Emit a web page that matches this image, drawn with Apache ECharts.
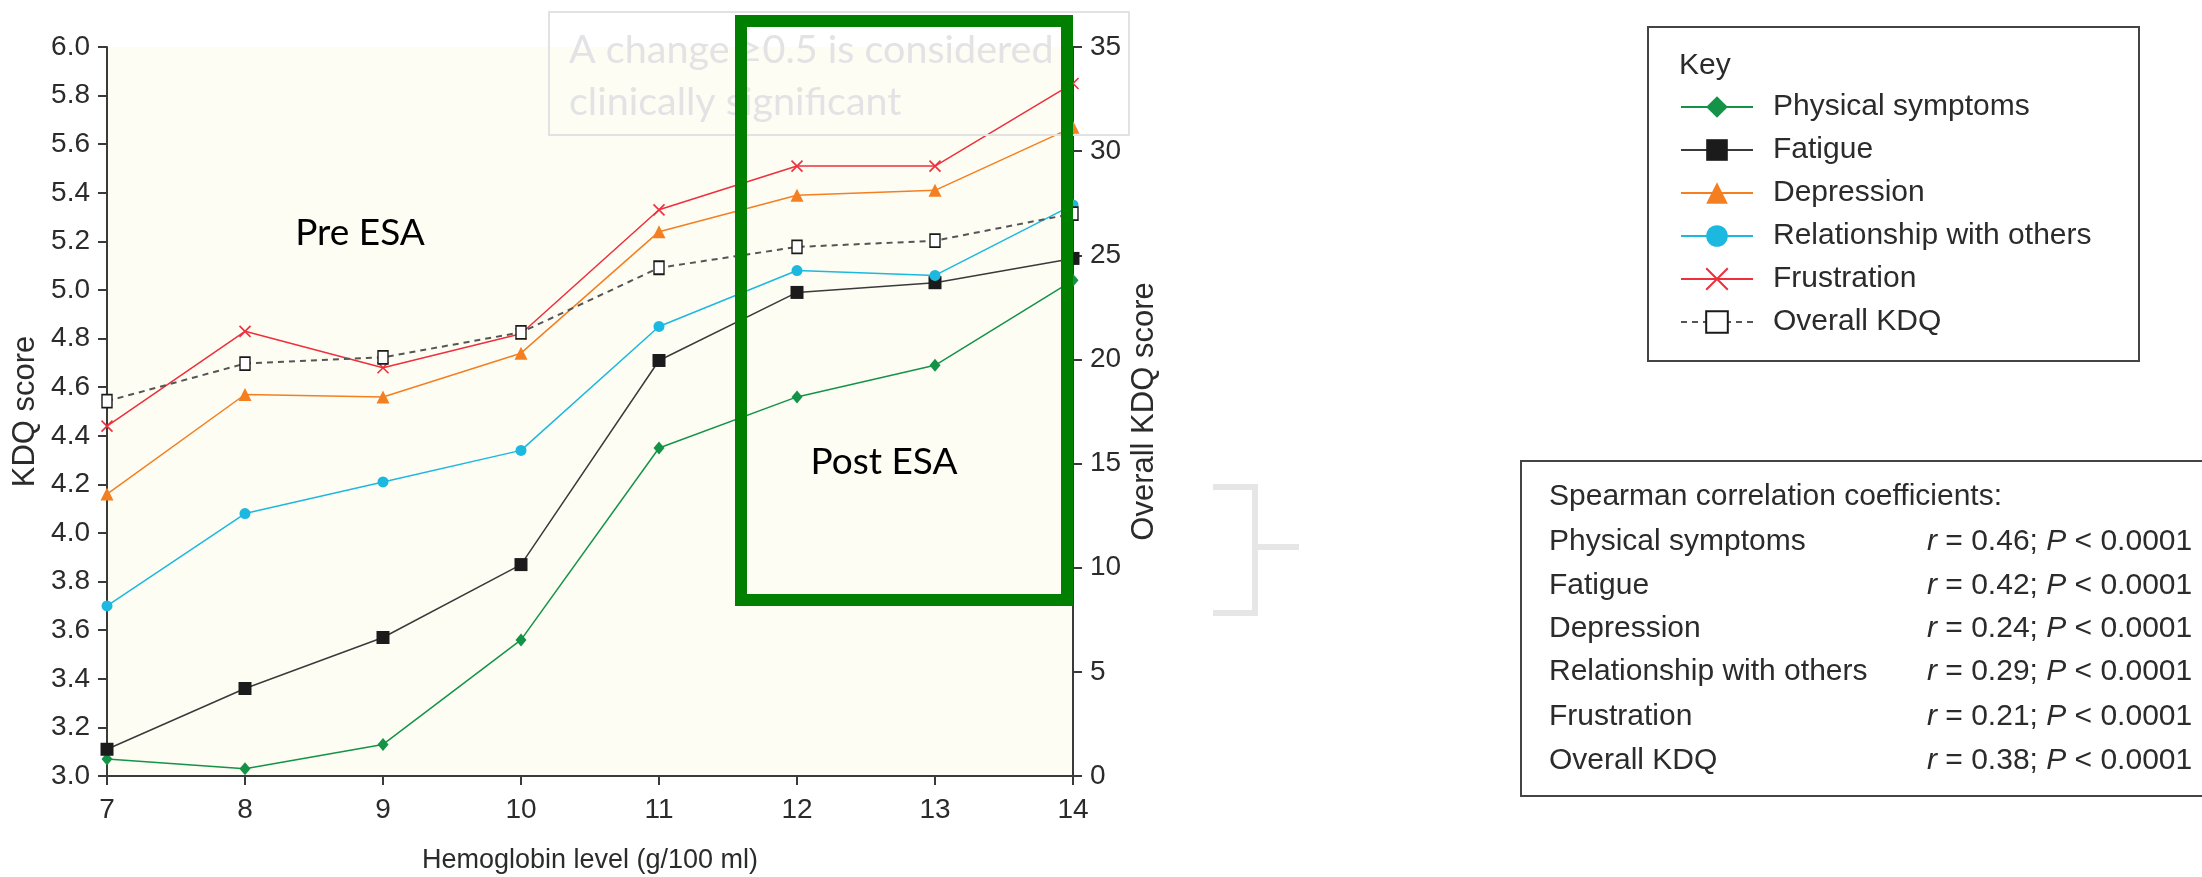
<!DOCTYPE html>
<html>
<head>
<meta charset="utf-8">
<style>
html,body{margin:0;padding:0;background:#fff;}
#chart{width:2202px;height:877px;}
</style>
<script src="https://cdn.jsdelivr.net/npm/echarts@6/dist/echarts.min.js"></script>
</head>
<body>
<div id="chart"></div>
<script>
// ---- data ----
const hemoglobin = [7, 8, 9, 10, 11, 12, 13, 14];
const physicalSymptoms = [3.07, 3.03, 3.13, 3.56, 4.35, 4.56, 4.69, 5.04];
const fatigue = [3.11, 3.36, 3.57, 3.87, 4.71, 4.99, 5.03, 5.13];
const depression = [4.16, 4.57, 4.56, 4.74, 5.24, 5.39, 5.41, 5.67];
const relationship = [3.70, 4.08, 4.21, 4.34, 4.85, 5.08, 5.06, 5.35];
const frustration = [4.44, 4.83, 4.68, 4.82, 5.33, 5.51, 5.51, 5.85];
const overallKDQ = [18.0, 19.8, 20.1, 21.3, 24.4, 25.4, 25.7, 27.0];
const seriesNames = ['Physical symptoms', 'Fatigue', 'Depression', 'Relationship with others', 'Frustration', 'Overall KDQ'];
const spearmanR = ['0.46', '0.42', '0.24', '0.29', '0.21', '0.38'];
const spearmanP = '0.0001';

const FONT = '"Liberation Sans", Arial, Helvetica, sans-serif';
const CAL = 'Lato, "Open Sans", sans-serif';
const TXT = '#2b2b2b';
const AX = '#3a3a3a';

function pairs(ys){ return hemoglobin.map((x,i)=>[x, ys[i]]); }

const crossPath = 'path://M0,0L10,10M10,0L0,10';

function lineSeries(name, data, color, symbol, size, extra){
  return Object.assign({
    name: name,
    type: 'line',
    data: pairs(data),
    symbol: symbol,
    symbolSize: size,
    lineStyle: {color: color, width: 1.5},
    itemStyle: {color: color},
    emphasis: {disabled: true},
    z: 3
  }, extra || {});
}

const series = [
  lineSeries(seriesNames[0], physicalSymptoms, '#149348', 'diamond', [11, 13]),
  lineSeries(seriesNames[1], fatigue, '#1b1b1b', 'rect', 13, {lineStyle:{color:'#3a3a3a', width:1.5}}),
  lineSeries(seriesNames[2], depression, '#f47f21', 'triangle', 13),
  lineSeries(seriesNames[3], relationship, '#1cb8e0', 'circle', 11),
  lineSeries(seriesNames[4], frustration, '#ee2f3c', crossPath, 11,
    {itemStyle:{color:'#ee2f3c', borderColor:'#ee2f3c', borderWidth:1.6}}),
  lineSeries(seriesNames[5], overallKDQ, '#555555', 'rect', [10, 13], {
    yAxisIndex: 1,
    lineStyle: {color:'#555555', width: 2, type: [6, 5]},
    itemStyle: {color:'#ffffff', borderColor:'#1a1a1a', borderWidth:1.6}
  })
];

// spearman text graphics
const spearmanGraphics = [];
spearmanGraphics.push({
  type:'text', left:1549, top:482, z:50,
  style:{text:'Spearman correlation coefficients:', font:'30px ' + FONT, fill:TXT}
});
const rowTop = [527, 571, 614, 657, 702, 746];
seriesNames.forEach((n,i)=>{
  spearmanGraphics.push({
    type:'text', left:1549, top:rowTop[i], z:50,
    style:{text:n, font:'30px ' + FONT, fill:TXT}
  });
  spearmanGraphics.push({
    type:'text', left:1927, top:rowTop[i], z:50,
    style:{
      text:'{i|r} = ' + spearmanR[i] + '; {i|P} < ' + spearmanP,
      font:'30px ' + FONT, fill:TXT,
      rich:{i:{fontStyle:'italic', fontSize:30, fontFamily:FONT, fill:TXT}}
    }
  });
});

const option = {
  animation: false,
  backgroundColor: '#ffffff',
  grid: {
    left: 107, top: 47, width: 966, height: 729,
    show: true, backgroundColor: '#fdfdf4', borderWidth: 0,
    containLabel: false, outerBoundsMode: 'none'
  },
  legend: {
    orient: 'vertical',
    left: 1680, top: 92,
    padding: 0,
    itemWidth: 72, itemHeight: 27, itemGap: 13,
    data: seriesNames,
    selectedMode: false,
    textStyle: {fontSize: 30, fontFamily: FONT, color: TXT, padding: [0, 0, 0, 15]}
  },
  xAxis: {
    type: 'value', min: 7, max: 14, interval: 1,
    name: 'Hemoglobin level (g/100 ml)', nameLocation: 'middle', nameGap: 71,
    nameTextStyle: {fontSize: 27, fontFamily: FONT, color: TXT},
    axisLine: {show: true, onZero: false, lineStyle: {color: AX, width: 2}},
    axisTick: {show: true, length: 9, lineStyle: {color: AX, width: 2}},
    axisLabel: {fontSize: 28, fontFamily: FONT, color: TXT, margin: 20},
    splitLine: {show: false}
  },
  yAxis: [
    {
      type: 'value', min: 3, max: 6, interval: 0.2, position: 'left',
      name: 'KDQ score', nameLocation: 'middle', nameGap: 66,
      nameTextStyle: {fontSize: 31, fontFamily: FONT, color: TXT},
      axisLine: {show: true, onZero: false, lineStyle: {color: AX, width: 2}},
      axisTick: {show: true, length: 9, lineStyle: {color: AX, width: 2}},
      axisLabel: {fontSize: 28, fontFamily: FONT, color: TXT, margin: 17,
        formatter: v => v.toFixed(1)},
      splitLine: {show: false}
    },
    {
      type: 'value', min: 0, max: 35, interval: 5, position: 'right',
      name: 'Overall KDQ score', nameLocation: 'middle', nameGap: 56, nameRotate: 90,
      nameTextStyle: {fontSize: 31, fontFamily: FONT, color: TXT},
      axisLine: {show: true, onZero: false, lineStyle: {color: AX, width: 2}},
      axisTick: {show: true, length: 9, lineStyle: {color: AX, width: 2}},
      axisLabel: {fontSize: 28, fontFamily: FONT, color: TXT, margin: 17},
      splitLine: {show: false}
    }
  ],
  series: series,
  graphic: [
    // annotation box "A change ..."
    {type:'rect', z:4, shape:{x:549, y:12, width:580, height:123},
      style:{fill:'none', stroke:'#e2e2e2', lineWidth:2}},
    {type:'text', x:569, y:50, z:4,
      style:{text:'A change \u22650.5 is considered', font:'39.5px ' + CAL, fill:'#e3e3e6', verticalAlign:'middle'}},
    {type:'text', x:569, y:102, z:4,
      style:{text:'clinically significant', font:'39.5px ' + CAL, fill:'#e3e3e6', verticalAlign:'middle'}},
    // Pre / Post ESA labels
    {type:'text', x:360, y:233, z:5,
      style:{text:'Pre ESA', font:'37px ' + CAL, fill:'#000', align:'center', verticalAlign:'middle'}},
    {type:'text', x:884, y:462, z:5,
      style:{text:'Post ESA', font:'37px ' + CAL, fill:'#000', align:'center', verticalAlign:'middle'}},
    // green highlight rectangle
    {type:'rect', z:100, shape:{x:741, y:21, width:326, height:579},
      style:{fill:'none', stroke:'#007f00', lineWidth:12}},
    // gray bracket
    {type:'polyline', z:5, shape:{points:[[1213,487],[1255,487],[1255,613],[1213,613]]},
      style:{fill:'none', stroke:'#e6e6e6', lineWidth:6}},
    {type:'line', z:5, shape:{x1:1255, y1:547, x2:1299, y2:547},
      style:{stroke:'#e6e6e6', lineWidth:6}},
    // legend box + Key title
    {type:'rect', z:1, shape:{x:1648, y:27, width:491, height:334},
      style:{fill:'#fff', stroke:'#444', lineWidth:2}},
    {type:'text', left:1679, top:51, z:50,
      style:{text:'Key', font:'30px ' + FONT, fill:TXT}},
    // spearman box
    {type:'rect', z:1, shape:{x:1521, y:461, width:720, height:335},
      style:{fill:'#fff', stroke:'#444', lineWidth:2}}
  ].concat(spearmanGraphics)
};

const chart = echarts.init(document.getElementById('chart'), null, {renderer: 'canvas'});
chart.setOption(option);
</script>
</body>
</html>
